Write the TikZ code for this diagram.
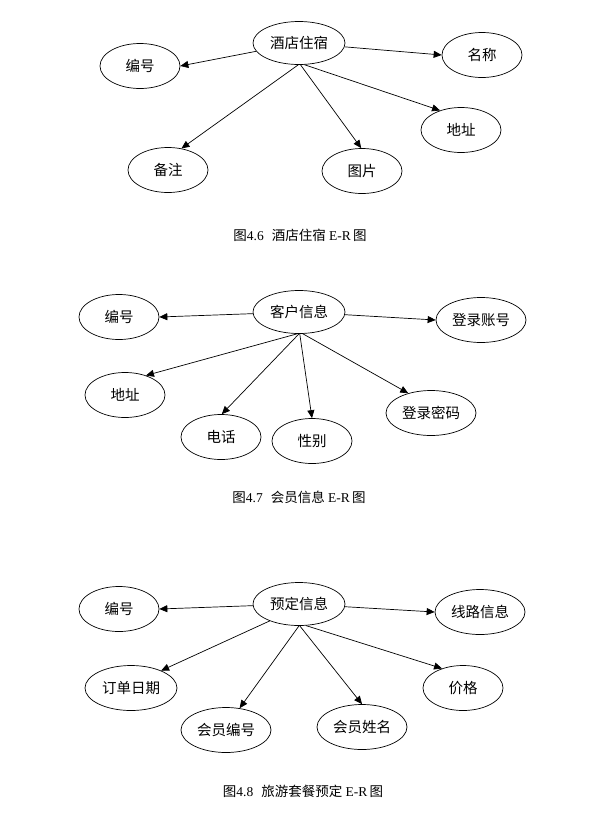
\documentclass[tikz,border=0pt]{standalone}
\usepackage{fontspec}
\setmainfont{Liberation Serif}
\newfontfamily\cjk{Noto Sans CJK SC}
\usetikzlibrary{shapes.geometric,arrows.meta}

\tikzset{
  attr/.style={draw, ellipse, inner sep=0pt, line width=0.7pt,
    minimum width=80pt, minimum height=45pt,
    font=\cjk\fontsize{14.5}{14.5}\selectfont},
  wide/.style={minimum width=90pt},
  ent/.style={attr, minimum width=92pt, minimum height=43pt},
  rel/.style={-{Triangle[length=8pt,width=7pt]}, line width=0.7pt},
  figcap/.style={inner sep=0pt, font=\fontsize{13.5}{15}\selectfont}
}

\begin{document}
\begin{tikzpicture}[x=1pt,y=-1pt]
\useasboundingbox (0,0) rectangle (595,814);

% hotel
\node[ent] (hotel) at (299,43) {酒店住宿};
\node[attr] (h1) at (140,66) {编号};
\node[attr] (h2) at (482,55) {名称};
\node[attr] (h3) at (461,130) {地址};
\node[attr] (h4) at (168,170) {备注};
\node[attr] (h5) at (362,171) {图片};
\node[figcap] (c1) at (300,235) {{\cjk 图}4.6\hspace{8pt}{\cjk 酒店住宿} E-R\,{\cjk 图}};
\draw[rel] (hotel) -- (h1.east);
\draw[rel] (hotel) -- (h2.west);
\foreach \s/\t/\a in {-92/h4/58, -86/h5/92, -76/h3/137}
	\draw[rel] (hotel.\s) -- (\t.\a);

% member
\node[ent] (cust) at (299,312) {客户信息};
\node[attr] (k1) at (119,317) {编号};
\node[attr,wide] (k2) at (481,320) {登录账号};
\node[attr] (k3) at (125,395) {地址};
\node[attr] (k4) at (221,437) {电话};
\node[attr] (k5) at (312,441) {性别};
\node[attr,wide] (k6) at (431,413) {登录密码};
\node[figcap] (c2) at (299,497) {{\cjk 图}4.7\hspace{8pt}{\cjk 会员信息} E-R\,{\cjk 图}};
\draw[rel] (cust) -- (k1.east);
\draw[rel] (cust) -- (k2.west);
\foreach \s/\t/\a in {-95/k3/43, -90/k4/88, -88/k5/90, -80/k6/139}
	\draw[rel] (cust.\s) -- (\t.\a);

% booking
\node[ent] (book) at (299,604) {预定信息};
\node[attr] (b1) at (119,609) {编号};
\node[attr,wide] (b2) at (480,612) {线路信息};
\node[attr,minimum width=92pt] (b3) at (131,688) {订单日期};
\node[attr,wide] (b4) at (226,730) {会员编号};
\node[attr,wide] (b5) at (362,727) {会员姓名};
\node[attr] (b6) at (463,688) {价格};
\node[figcap] (c3) at (303,791) {{\cjk 图}4.8\hspace{8pt}{\cjk 旅游套餐预定} E-R\,{\cjk 图}};
\draw[rel] (book) -- (b1.east);
\draw[rel] (book) -- (b2.west);
\foreach \s/\t/\a in {-150/b3/30, -90/b4/58, -88/b5/90, -72/b6/137}
	\draw[rel] (book.\s) -- (\t.\a);
\end{tikzpicture}
\end{document}
